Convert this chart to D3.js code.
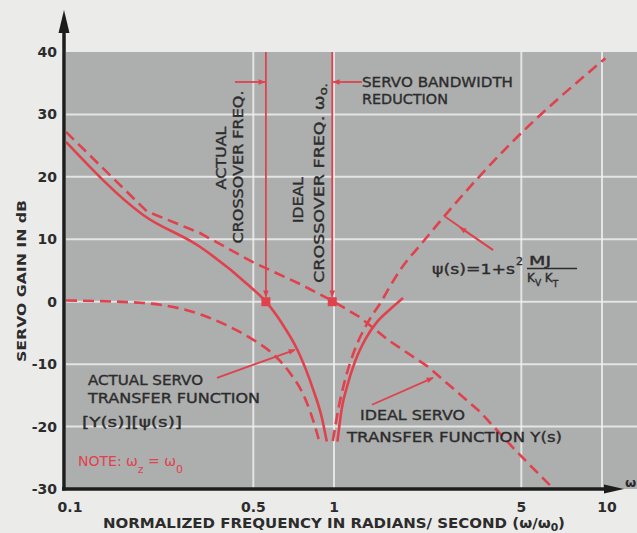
<!DOCTYPE html>
<html><head><meta charset="utf-8">
<script src="https://cdn.jsdelivr.net/npm/d3@7"></script>
<style>
html,body{margin:0;padding:0;background:#ebebe9;overflow:hidden;}
svg{display:block;}
text{font-family:"DejaVu Sans",sans-serif;fill:#2c2c2c;}
.ann{stroke:#2c2c2c;stroke-width:0.35px;}
</style></head><body>
<svg id="c" width="637" height="533"></svg>
<script>
// ---- data ----
const yTicks = [40, 30, 20, 10, 0, -10, -20, -30];
const yTickLabels = ["40", "30", "20", "10", "0", "-10", "-20", "-30"];
const xTicks = [0.1, 0.5, 1, 5, 10];
const xTickLabels = ["0.1", "0.5", "1", "5", "10"];
const gridDb = [30, 20, 10, 0, -10, -20];
const gridFreq = [0.5, 1, 5, 10];
// ideal servo transfer function Y(s), dashed  [freq, dB]
const idealY = [[0.1, 27.2], [0.2, 14.5], [0.316, 11.0], [0.5, 6.3], [0.75, 2.8], [1, 0], [1.25, -2.5], [1.6, -6.2], [2.24, -10.4], [3.5, -17.6], [4.8, -24.0], [6.6, -30]];
// actual servo transfer function Y(s)*psi(s), solid
const actualLeft = [[0.1, 25.6], [0.194, 13.9], [0.316, 8.8], [0.487, 2.4], [0.557, 0], [0.64, -3.5], [0.73, -7.7], [0.835, -14], [0.9, -18.5], [0.94, -22.4]];
const actualRight = [[1.03, -22.4], [1.07, -17], [1.12, -13.5], [1.2, -9.5], [1.31, -6], [1.45, -3.2], [1.62, -1.2], [1.81, 0.6]];
// psi(s) = 1 + s^2 MJ/(Kv Kt), dashed
const psiLeft = [[0.1, 0.2], [0.194, -0.2], [0.335, -2.4], [0.434, -4.6], [0.5, -6.1], [0.6, -8.6], [0.685, -11.4], [0.78, -15.5], [0.85, -20], [0.88, -22.3]];
const psiRight = [[0.99, -22.3], [1.04, -17], [1.1, -12.5], [1.2, -7.5], [1.33, -3.5], [1.5, 0], [1.62, 2.5], [1.76, 5.0], [2.15, 9.6], [2.64, 14.2], [4.53, 25.2], [10.3, 39]];
// crossover frequencies (0 dB)
const crossovers = [0.557, 0.985];

// ---- drawing ----
const svg = d3.select("#c");
const x = d3.scaleLog().domain([0.1, 10]).range([66, 602]);
const y = d3.scaleLinear().domain([-30, 40]).range([489, 52]);
const RED = "#e0424d";

// plot background
svg.append("rect").attr("x", x(0.1)).attr("y", y(40)).attr("width", 637 - x(0.1)).attr("height", y(-30) - y(40)).attr("fill", "#adaeae");

// grid
svg.append("g").selectAll("line").data(gridDb).join("line")
  .attr("x1", x(0.1)).attr("x2", 637).attr("y1", d => y(d)).attr("y2", d => y(d))
  .attr("stroke", "#f2f2f2").attr("stroke-width", 2).attr("opacity", 0.8);
svg.append("g").selectAll("line").data(gridFreq).join("line")
  .attr("x1", d => x(d)).attr("x2", d => x(d)).attr("y1", y(40)).attr("y2", y(-30))
  .attr("stroke", "#f2f2f2").attr("stroke-width", 2).attr("opacity", 0.8);

// defs: arrowheads, clip
const defs = svg.append("defs");
defs.append("marker").attr("id", "ah").attr("viewBox", "0 0 10 10").attr("refX", 9).attr("refY", 5)
  .attr("markerWidth", 9).attr("markerHeight", 7).attr("markerUnits", "userSpaceOnUse").attr("orient", "auto")
  .append("path").attr("d", "M0,1 L10,5 L0,9 Z").attr("fill", RED);
defs.append("clipPath").attr("id", "plotclip").append("rect")
  .attr("x", x(0.1)).attr("y", y(40) + 2).attr("width", 637 - x(0.1)).attr("height", y(-30) - y(40));

// curves
const line = d3.line().x(d => x(d[0])).y(d => y(d[1])).curve(d3.curveMonotoneX);
const lineLin = d3.line().x(d => x(d[0])).y(d => y(d[1]));
const curves = svg.append("g").attr("clip-path", "url(#plotclip)").attr("fill", "none").attr("stroke", RED).attr("stroke-width", 2.6);
curves.append("path").attr("d", lineLin(idealY)).attr("stroke-dasharray", "11,6");
curves.append("path").attr("d", line(psiLeft)).attr("stroke-dasharray", "11,6");
curves.append("path").attr("d", line(psiRight)).attr("stroke-dasharray", "11,6");
curves.append("path").attr("d", line(actualLeft));
curves.append("path").attr("d", line(actualRight));

// crossover vertical arrows and markers
crossovers.forEach(f => {
  svg.append("line").attr("x1", x(f)).attr("x2", x(f)).attr("y1", y(40)).attr("y2", y(0) - 5)
    .attr("stroke", RED).attr("stroke-width", 1.8).attr("marker-end", "url(#ah)");
  svg.append("rect").attr("x", x(f) - 4.5).attr("y", y(0) - 4.5).attr("width", 9).attr("height", 9).attr("fill", RED);
});
// bandwidth reduction arrows
svg.append("line").attr("x1", x(0.427)).attr("x2", x(crossovers[0]) - 1).attr("y1", y(35.2)).attr("y2", y(35.2))
  .attr("stroke", RED).attr("stroke-width", 1.8).attr("marker-end", "url(#ah)");
svg.append("line").attr("x1", x(1.27)).attr("x2", x(crossovers[1]) + 1).attr("y1", y(35.2)).attr("y2", y(35.2))
  .attr("stroke", RED).attr("stroke-width", 1.8).attr("marker-end", "url(#ah)");

// label pointer arrows
function pointer(p0, p1) {
  svg.append("line").attr("x1", x(p0[0])).attr("y1", y(p0[1])).attr("x2", x(p1[0])).attr("y2", y(p1[1]))
    .attr("stroke", RED).attr("stroke-width", 1.8).attr("marker-end", "url(#ah)");
}
pointer([0.366, -12.2], [0.715, -7.7]);
pointer([1.386, -16.5], [2.34, -12.2]);
// psi pointer: line to curve with arrowhead partway
svg.append("line").attr("x1", x(3.92)).attr("y1", y(8.3)).attr("x2", x(2.6)).attr("y2", y(13.6))
  .attr("stroke", RED).attr("stroke-width", 1.8);
svg.append("line").attr("x1", x(3.92)).attr("y1", y(8.3)).attr("x2", x(2.95)).attr("y2", y(11.9))
  .attr("stroke", RED).attr("stroke-width", 1.8).attr("marker-end", "url(#ah)");

// axes
const axisCol = "#1d1d1d";
svg.append("line").attr("x1", 64).attr("x2", 64).attr("y1", 28).attr("y2", y(-30) + 1.5).attr("stroke", axisCol).attr("stroke-width", 3.5);
svg.append("path").attr("d", "M64,10 L58.5,33 L69.5,33 Z").attr("fill", axisCol);
svg.append("line").attr("x1", 62).attr("x2", 608).attr("y1", y(-30)).attr("y2", y(-30)).attr("stroke", axisCol).attr("stroke-width", 3.5);
svg.append("path").attr("d", `M624,${y(-30)} L604,${y(-30) - 4.5} L604,${y(-30) + 4.5} Z`).attr("fill", axisCol);
svg.append("text").attr("x", 625).attr("y", 487).attr("font-size", 13).attr("font-weight", "bold").text("ω");

// tick labels
svg.append("g").selectAll("text").data(yTicks).join("text")
  .attr("x", 57).attr("y", d => y(d) + 5).attr("text-anchor", "end")
  .attr("font-size", 14).attr("font-weight", "bold").text((d, i) => yTickLabels[i]);
svg.append("g").selectAll("text").data(xTicks).join("text")
  .attr("x", (d, i) => x(d) + (i === 0 ? 4 : (i === 4 ? 5 : 0))).attr("y", 512).attr("text-anchor", "middle")
  .attr("font-size", 14).attr("font-weight", "bold").text((d, i) => xTickLabels[i]);

// axis titles
svg.append("text").attr("transform", "translate(26,281) rotate(-90)").attr("text-anchor", "middle")
  .attr("font-size", 13).attr("font-weight", "bold").attr("textLength", 162).attr("lengthAdjust", "spacingAndGlyphs")
  .text("SERVO GAIN IN dB");
const xt = svg.append("text").attr("x", 103).attr("y", 528).attr("font-size", 14).attr("font-weight", "bold")
  .attr("textLength", 462).attr("lengthAdjust", "spacingAndGlyphs");
xt.append("tspan").text("NORMALIZED FREQUENCY IN RADIANS/ SECOND  (ω/ω");
xt.append("tspan").attr("font-size", 10).attr("dy", 3).text("0");
xt.append("tspan").attr("dy", -3).text(")");

// annotation text helper
function label(xp, yp, str, len, opts = {}) {
  const t = svg.append("text").attr("class", "ann").attr("x", xp).attr("y", yp).attr("font-size", opts.size || 14)
    .attr("textLength", len).attr("lengthAdjust", "spacingAndGlyphs").text(str);
  return t;
}
function vlabel(cx, cy, str, len) {
  return svg.append("text").attr("class", "ann").attr("transform", `translate(${cx},${cy}) rotate(-90)`).attr("text-anchor", "middle")
    .attr("font-size", 14).attr("textLength", len).attr("lengthAdjust", "spacingAndGlyphs").text(str);
}
vlabel(226, 158, "ACTUAL", 63);
vlabel(243, 167, "CROSSOVER  FREQ.", 153);
vlabel(303, 200, "IDEAL", 46);
const cw = svg.append("text").attr("class", "ann").attr("transform", "translate(324,183) rotate(-90)").attr("text-anchor", "middle")
  .attr("font-size", 14).attr("textLength", 200).attr("lengthAdjust", "spacingAndGlyphs");
cw.append("tspan").text("CROSSOVER  FREQ. ω");
cw.append("tspan").attr("dy", 3).attr("font-size", 11).text("o.");

label(362, 87, "SERVO  BANDWIDTH", 151);
label(362, 104, "REDUCTION", 86);

label(88, 385, "ACTUAL  SERVO", 115);
label(88, 403, "TRANSFER  FUNCTION", 172);
label(82, 427, "[Y(s)][ψ(s)]", 100);

label(360, 420, "IDEAL  SERVO", 105);
label(347, 442, "TRANSFER  FUNCTION  Y(s)", 215);

// psi formula
label(432, 274, "ψ(s)=1+s", 83);
svg.append("text").attr("class", "ann").attr("x", 516).attr("y", 265).attr("font-size", 11).text("2");
label(529, 265, "MJ", 22, {size: 12});
svg.append("line").attr("x1", 527).attr("x2", 577).attr("y1", 268.5).attr("y2", 268.5).attr("stroke", "#2c2c2c").attr("stroke-width", 1.5);
const kk = svg.append("text").attr("class", "ann").attr("x", 527).attr("y", 282).attr("font-size", 12);
kk.append("tspan").text("K");
kk.append("tspan").attr("font-size", 9).attr("dy", 4).text("V");
kk.append("tspan").attr("dy", -4).text(" K");
kk.append("tspan").attr("font-size", 9).attr("dy", 5).text("T");

// note
const note = svg.append("text").attr("x", 78).attr("y", 466).attr("font-size", 14).style("fill", RED);
note.append("tspan").text("NOTE: ω");
note.append("tspan").attr("font-size", 11).attr("dy", 7).text("z");
note.append("tspan").attr("dy", -7).text(" = ω");
note.append("tspan").attr("font-size", 11).attr("dy", 7).text("0");
</script>
</body></html>
